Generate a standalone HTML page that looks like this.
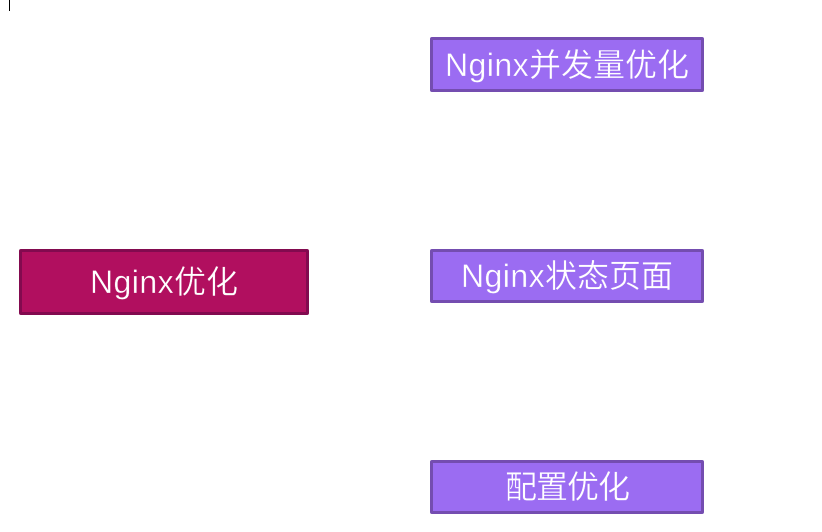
<!DOCTYPE html>
<html><head><meta charset="utf-8"><style>
html,body{margin:0;padding:0;background:#fff;width:822px;height:532px;overflow:hidden}
.b{position:absolute;box-sizing:border-box;border:3px solid #744db0;background:#9b6cf2;border-radius:2px;color:#fff;font:32px/1 "Liberation Sans","WenQuanYi Zen Hei","Noto Sans CJK SC",sans-serif;display:flex;align-items:center;justify-content:center;white-space:nowrap;-webkit-text-stroke:0.35px #9b6cf2}
.b span{letter-spacing:.45px}
.r{background:#b10f5f;border-color:#820a4f;-webkit-text-stroke:0.35px #b10f5f}
.c{position:absolute;left:9px;top:0;width:1px;height:11px;background:#000}
</style></head><body>
<div class="c"></div>
<div class="b" style="left:430px;top:37px;width:274px;height:55px"><span>Nginx</span>并发量优化</div>
<div class="b" style="left:430px;top:249px;width:274px;height:54px"><span>Nginx</span>状态页面</div>
<div class="b" style="left:430px;top:460px;width:274px;height:54px;letter-spacing:-1px">配置优化</div>
<div class="b r" style="left:19px;top:249px;width:290px;height:66px"><span>Nginx</span>优化</div>
</body></html>
